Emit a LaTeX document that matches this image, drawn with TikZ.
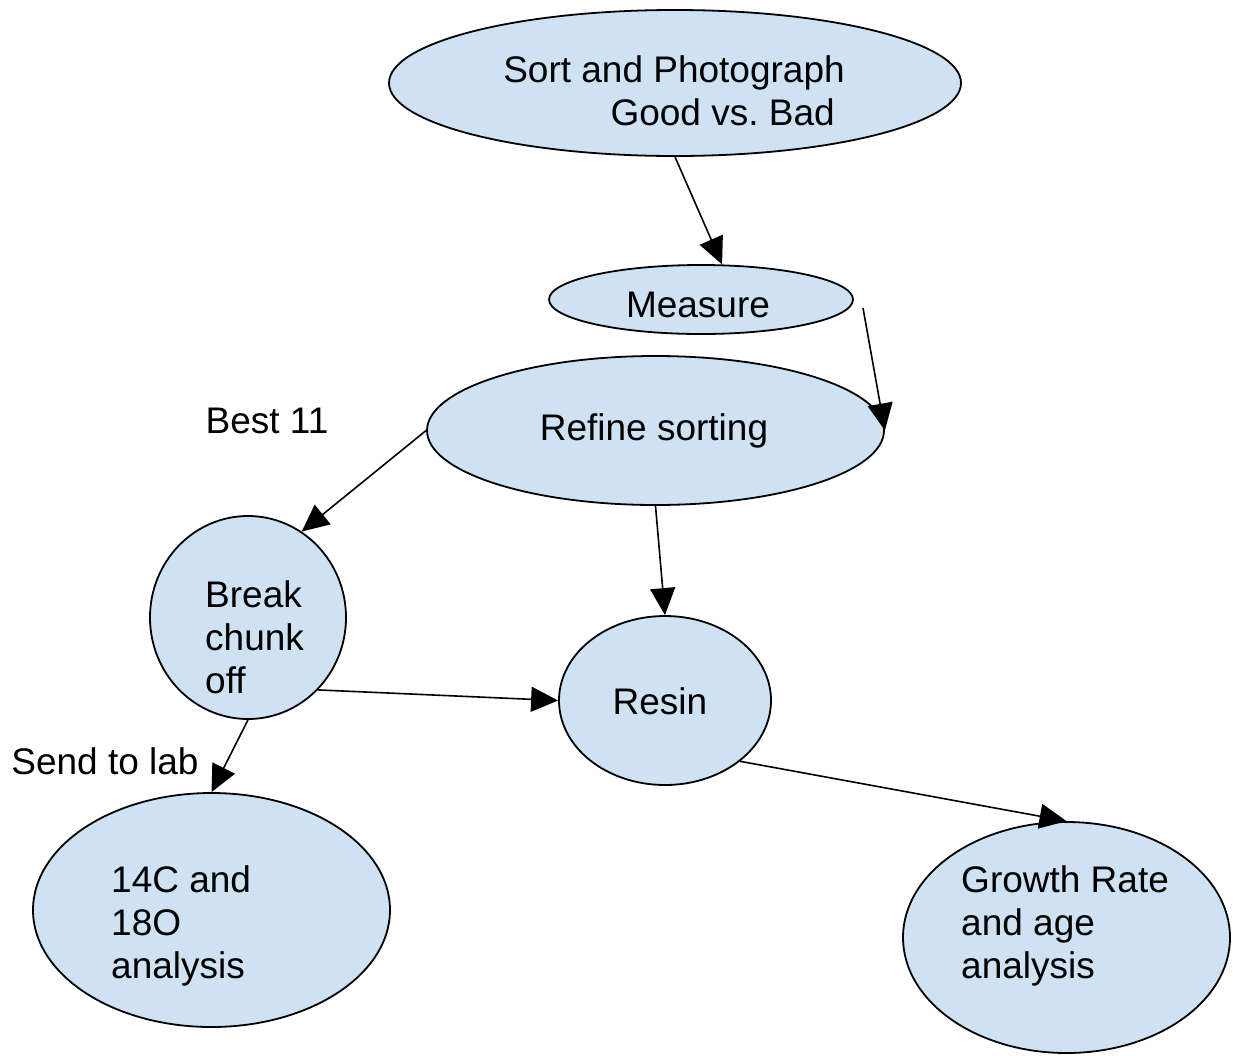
\documentclass[tikz,border=0pt]{standalone}
\usepackage{fontspec}
\setmainfont{Liberation Sans}
\usetikzlibrary{shapes.geometric,arrows.meta}
\definecolor{cellblue}{HTML}{CFE2F3}
\tikzset{
  blob/.style={ellipse, draw=black, line width=1.8pt, fill=cellblue, inner sep=0pt},
  txt/.style={font=\fontsize{37}{43}\selectfont, align=left, inner sep=0pt},
  arr/.style={line width=1.6pt, -{Triangle[length=27pt,width=25pt]}}
}
\begin{document}
\begin{tikzpicture}[x=1pt,y=-1pt]
\useasboundingbox (0,0) rectangle (1233,1055);
% the ellipses
\node[blob, minimum width=572pt, minimum height=146pt] (sort) at (675,83) {};
\node[blob, minimum width=304pt, minimum height=69pt] (measure) at (701,299.5) {};
\node[blob, minimum width=457pt, minimum height=149pt] (refine) at (655.5,430.5) {};
\node[blob, minimum width=196pt, minimum height=203pt] (break) at (248,617.5) {};
\node[blob, minimum width=212pt, minimum height=169pt] (resin) at (665,700.5) {};
\node[blob, minimum width=357pt, minimum height=234pt] (lab) at (211.5,910) {};
\node[blob, minimum width=327pt, minimum height=231pt] (growth) at (1066.5,937.5) {};
% the texts
\node[txt, align=right] (sort-t) at (674,91) {Sort and Photograph\\Good vs.\ Bad\hspace*{10pt}};
\node[txt] (measure-t) at (698,305) {Measure};
\node[txt] (refine-t) at (654,431) {Refine sorting};
\node[txt, anchor=west] (break-t) at (205,637) {Break\\chunk\\off};
\node[txt] (resin-t) at (660,701) {Resin};
\node[txt, anchor=west] (lab-t) at (111,926) {14C and\\18O\\analysis};
\node[txt, anchor=west] (growth-t) at (961,926) {Growth Rate\\and age\\analysis};
\node[txt] (best) at (267,421) {Best 11};
\node[txt] (send) at (105,761) {Send to lab};
% the arrows
\coordinate (loose) at (863,308);
\draw[arr] (sort.south) -- (measure.59);
\draw[arr] (loose) -- (refine.east);
\draw[arr] (refine.west) -- (break.58);
\draw[arr] (refine.south) -- (resin.north);
\draw[arr] (break.-46) -- (resin.west);
\draw[arr] (break.south) -- (lab.north);
\draw[arr] (resin.-39) -- (growth.north);
\end{tikzpicture}
\end{document}
